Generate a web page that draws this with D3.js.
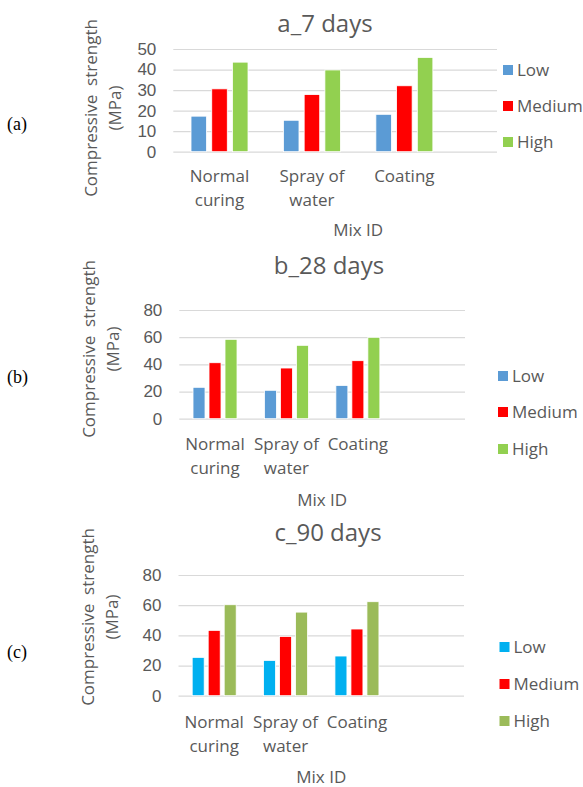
<!DOCTYPE html>
<html>
<head>
<meta charset="utf-8">
<script src="https://cdn.jsdelivr.net/npm/d3@7"></script>
<style>
  body { margin: 0; background: #fff; }
  svg { display: block; font-family: "Open Sans", "Noto Sans", sans-serif; }
  .grid line { stroke: #d9d9d9; stroke-width: 1.2px; }
  .grid text { fill: #595959; font-size: 17px; }
  .lbl { fill: #595959; }
</style>
</head>
<body>
<svg id="chart" width="583" height="787"></svg>
<script>
// data
const categories = ["Normal curing", "Spray of water", "Coating"];
const series = ["Low", "Medium", "High"];

const low7 = [17.3, 15.3, 18.2];
const medium7 = [30.6, 27.8, 32.1];
const high7 = [43.6, 39.8, 45.9];

const low28 = [23.1, 20.9, 24.5];
const medium28 = [41.2, 37.3, 42.7];
const high28 = [58.4, 54.0, 59.9];

const low90 = [25.4, 23.4, 26.3];
const medium90 = [43.3, 39.3, 44.2];
const high90 = [60.3, 55.4, 62.3];

const ticks7 = [0, 10, 20, 30, 40, 50];
const ticks28 = [0, 20, 40, 60, 80];
const ticks90 = [0, 20, 40, 60, 80];

const titles = ["a_7 days", "b_28 days", "c_90 days"];
const tags = ["(a)", "(b)", "(c)"];
const yTitle = ["Compressive  strength", "(MPa)"];
const xTitle = "Mix ID";

const colorsAB = ["#5b9bd5", "#ff0000", "#92d050"];
const colorsC = ["#00b0f0", "#ff0000", "#9bbb59"];

// layout of the three panels
const panels = [
  { title: titles[0], tag: tags[0], values: [low7, medium7, high7], ticks: ticks7, colors: colorsAB,
    left: 173.3, right: 543, gridRight: 497, top: 49, bottom: 151.7, groupW: 57,
    titleX: 325, titleY: 32, legX: 503, legY: [70, 106, 142], catY: 182, mixY: 236,
    ytX: 90, ytY: 108, tagY: 130 },
  { title: titles[1], tag: tags[1], values: [low28, medium28, high28], ticks: ticks28, colors: colorsAB,
    left: 179.3, right: 465, gridRight: 465, top: 310, bottom: 418.7, groupW: 44,
    titleX: 329, titleY: 274, legX: 498, legY: [376, 412, 449], catY: 450, mixY: 506,
    ytX: 88, ytY: 349, tagY: 383 },
  { title: titles[2], tag: tags[2], values: [low90, medium90, high90], ticks: ticks90, colors: colorsC,
    left: 178.5, right: 464, gridRight: 464, top: 575, bottom: 695.7, groupW: 44,
    titleX: 328, titleY: 541, legX: 499.5, legY: [647, 684, 721], catY: 728, mixY: 783,
    ytX: 87, ytY: 617, tagY: 658 }
];

const svg = d3.select("#chart");

panels.forEach(p => {
  const g = svg.append("g");

  // 4 slots, the last one empty like the source spreadsheet
  const x0 = d3.scaleBand().domain([...categories, ""]).range([p.left, p.right]);
  const x1 = d3.scaleBand().domain(series).range([-p.groupW / 2, p.groupW / 2]).paddingInner(0.25);
  const y = d3.scaleLinear().domain([0, d3.max(p.ticks)]).range([p.bottom, p.top]);

  // gridlines + tick labels
  const axis = g.append("g")
      .attr("class", "grid")
      .attr("transform", `translate(${p.left},0)`)
      .call(d3.axisLeft(y).tickValues(p.ticks).tickSize(-(p.gridRight - p.left)).tickPadding(17));
  axis.select(".domain").remove();
  axis.selectAll("text").attr("font-family", null);

  // bars
  series.forEach((s, si) => {
    g.append("g")
      .selectAll("rect")
      .data(categories)
      .join("rect")
        .attr("x", (c) => x0(c) + x0.bandwidth() / 2 + x1(s))
        .attr("width", x1.bandwidth())
        .attr("y", (c, i) => y(p.values[si][i]))
        .attr("height", (c, i) => y(0) - y(p.values[si][i]))
        .attr("fill", p.colors[si])
        .attr("stroke", "#fff")
        .attr("stroke-width", 0.8);
  });

  // category labels, last word on second line
  categories.forEach(c => {
    const words = c.split(" ");
    const lines = words.length > 1 ? [words.slice(0, -1).join(" "), words[words.length - 1]] : [c];
    const t = g.append("text")
      .attr("class", "lbl")
      .attr("text-anchor", "middle")
      .attr("font-size", 17);
    lines.forEach((l, li) => {
      t.append("tspan")
        .attr("x", x0(c) + x0.bandwidth() / 2)
        .attr("y", p.catY + li * 23.5)
        .text(l);
    });
  });

  // x title
  g.append("text")
    .attr("class", "lbl")
    .attr("x", (p.left + p.right) / 2)
    .attr("y", p.mixY)
    .attr("text-anchor", "middle")
    .attr("font-size", 17)
    .text(xTitle);

  // y title
  const yt = g.append("g").attr("transform", `translate(${p.ytX},${p.ytY}) rotate(-90)`);
  yTitle.forEach((l, li) => {
    yt.append("text")
      .attr("class", "lbl")
      .attr("x", 0)
      .attr("y", li * 24)
      .attr("text-anchor", "middle")
      .attr("dominant-baseline", "central")
      .attr("font-size", 17)
      .style("white-space", "pre")
      .text(l);
  });

  // chart title
  g.append("text")
    .attr("class", "lbl")
    .attr("x", p.titleX)
    .attr("y", p.titleY)
    .attr("text-anchor", "middle")
    .attr("font-size", 24)
    .text(p.title);

  // legend
  series.forEach((s, si) => {
    g.append("rect")
      .attr("x", p.legX)
      .attr("y", p.legY[si] - 5)
      .attr("width", 10)
      .attr("height", 10)
      .attr("fill", p.colors[si]);
    g.append("text")
      .attr("class", "lbl")
      .attr("x", p.legX + 14)
      .attr("y", p.legY[si] + 6)
      .attr("font-size", 17)
      .text(s);
  });

  // panel tag
  g.append("text")
    .attr("x", 7)
    .attr("y", p.tagY)
    .attr("font-family", "'Liberation Serif', 'DejaVu Serif', serif")
    .attr("font-size", 18)
    .attr("fill", "#000")
    .text(p.tag);
});
</script>
</body>
</html>
